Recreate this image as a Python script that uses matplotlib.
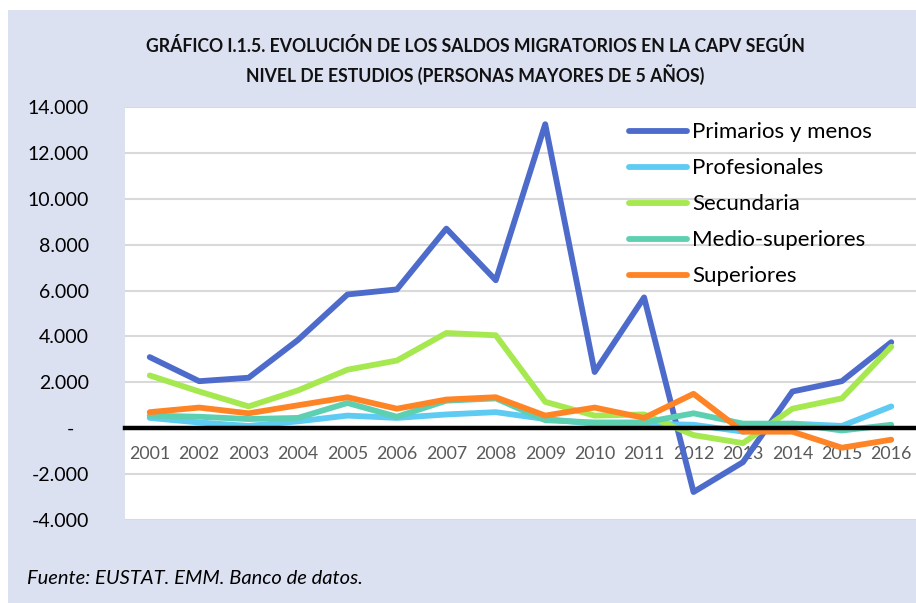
import matplotlib.pyplot as plt
from matplotlib.patches import Rectangle

years = [str(y) for y in range(2001, 2017)]
primarios = [3100, 2050, 2200, 3850, 5830, 6050, 8700, 6450, 13250, 2450, 5700, -2780, -1480, 1600, 2050, 3750]
profesionales = [450, 250, 100, 300, 550, 450, 600, 700, 400, 200, 200, 150, -150, 200, 100, 950]
secundaria = [2300, 1600, 950, 1650, 2550, 2950, 4150, 4050, 1150, 550, 600, -300, -650, 850, 1300, 3550]
medio_sup = [550, 500, 400, 450, 1100, 500, 1200, 1300, 350, 250, 250, 650, 200, 200, -100, 150]
superiores = [700, 900, 650, 1000, 1350, 850, 1250, 1350, 550, 900, 450, 1500, -150, -150, -850, -500]

series = [("Primarios y menos", primarios, "#4D6BCB"),
          ("Profesionales", profesionales, "#5DCBF2"),
          ("Secundaria", secundaria, "#A6E84F"),
          ("Medio-superiores", medio_sup, "#5ED0B2"),
          ("Superiores", superiores, "#FF8426")]

plt.rcParams['font.family'] = ['Lato', 'DejaVu Sans']

fig = plt.figure(figsize=(9.16, 6.03), dpi=100)
fig.patch.set_facecolor("white")
bg = Rectangle((8 / 916, 0), 1, 593 / 603, transform=fig.transFigure,
               facecolor="#DCE1F2", edgecolor="none", zorder=-10)
fig.add_artist(bg)

ax = fig.add_axes([125 / 916, 83 / 603, 791 / 916, 413 / 603])
ax.set_zorder(5)
ax.set_facecolor("white")

x = list(range(len(years)))
for name, vals, col in series:
    ax.plot(x, vals, color=col, lw=4.2, label=name, solid_capstyle="round", solid_joinstyle="round", zorder=3)

ax.set_xlim(-0.5, 15.5)
ax.set_ylim(-4000, 14000)
yt = list(range(-4000, 14001, 2000))
ax.set_yticks(yt)
labels = []
for v in yt:
    if v == 0:
        labels.append("-   ")
    else:
        labels.append(f"{v:,}".replace(",", "."))
ax.set_yticklabels(labels)
ax.tick_params(axis="y", length=0, pad=26, labelsize=14, labelcolor="black")
ax.grid(axis="y", color="#D9D9D9", lw=1.5, zorder=1)

ax.set_xticks(x)
ax.set_xticklabels(years)
ax.tick_params(axis="x", length=0, pad=13, labelsize=12.8, labelcolor="#595959")

for s in ["top", "right", "left"]:
    ax.spines[s].set_visible(False)
ax.spines["bottom"].set_position(("data", 0))
ax.spines["bottom"].set_color("black")
ax.spines["bottom"].set_linewidth(3.2)
ax.spines["bottom"].set_zorder(4)

leg = ax.legend(loc="upper left", bbox_to_anchor=(0.62, 0.995), frameon=False, fontsize=16,
                handlelength=2.6, handletextpad=0.25, labelspacing=0.72, borderaxespad=0.2)

fig.text(475 / 916, 1 - 46 / 603, "GRÁFICO I.1.5. EVOLUCIÓN DE LOS SALDOS MIGRATORIOS EN LA CAPV SEGÚN",
         ha="center", va="center", fontsize=12.7, fontweight="bold", color="#111111")
fig.text(475 / 916, 1 - 75 / 603, "NIVEL DE ESTUDIOS (PERSONAS MAYORES DE 5 AÑOS)",
         ha="center", va="center", fontsize=12.7, fontweight="bold", color="#111111")
fig.text(27 / 916, 1 - 578 / 603, "Fuente: EUSTAT. EMM. Banco de datos.",
         ha="left", va="center", fontsize=14.5, style="italic", color="black")

fig.savefig("out.png", dpi=100)
